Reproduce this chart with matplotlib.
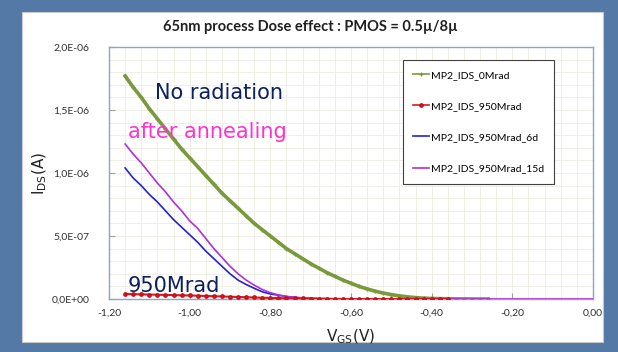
import numpy as np
import matplotlib
matplotlib.use('Agg')
import matplotlib.pyplot as plt
from matplotlib.patches import Rectangle
from matplotlib.ticker import MultipleLocator, FuncFormatter

# data (I in uA)
v_0mrad = [-1.16, -1.14, -1.12, -1.10, -1.08, -1.06, -1.04, -1.02, -1.00, -0.98,
           -0.96, -0.94, -0.92, -0.90, -0.88, -0.86, -0.84, -0.82, -0.80, -0.78,
           -0.76, -0.74, -0.72, -0.70, -0.68, -0.66, -0.64, -0.62, -0.60, -0.58,
           -0.56, -0.54, -0.52, -0.50, -0.48, -0.46, -0.44, -0.42, -0.40, -0.38,
           -0.36, -0.34, -0.32, -0.30, -0.28, -0.26]
i_0mrad = [1.77, 1.68, 1.60, 1.51, 1.43, 1.35, 1.27, 1.19, 1.12, 1.05,
           0.98, 0.91, 0.84, 0.78, 0.72, 0.66, 0.60, 0.55, 0.50, 0.45,
           0.40, 0.36, 0.32, 0.28, 0.245, 0.21, 0.18, 0.15, 0.125, 0.10,
           0.08, 0.062, 0.047, 0.035, 0.025, 0.017, 0.011, 0.007, 0.004, 0.003,
           0.002, 0.001, 0.001, 0.0, 0.0, 0.0]

v_950 = [-1.16, -1.14, -1.12, -1.10, -1.08, -1.06, -1.04, -1.02, -1.00, -0.98,
         -0.96, -0.94, -0.92, -0.90, -0.88, -0.86, -0.84, -0.82, -0.80, -0.78,
         -0.76, -0.74, -0.72, -0.70, -0.68, -0.66, -0.64, -0.62, -0.60, -0.58,
         -0.56, -0.54, -0.52, -0.50, -0.48, -0.46, -0.44, -0.42, -0.40, -0.38, -0.36]
i_950 = [0.040, 0.038, 0.037, 0.035, 0.034, 0.032, 0.031, 0.029, 0.028, 0.026,
         0.024, 0.022, 0.020, 0.018, 0.016, 0.014, 0.012, 0.010, 0.009, 0.007,
         0.006, 0.005, 0.004, 0.003, 0.002, 0.0015, 0.001, 0.0005, 0.0, 0.0,
         0.0, 0.0, 0.0, 0.0, 0.0, 0.0, 0.0, 0.0, 0.0, 0.0, 0.0]

v_6d = [-1.16, -1.14, -1.12, -1.10, -1.08, -1.06, -1.04, -1.02, -1.00, -0.98,
        -0.96, -0.94, -0.92, -0.90, -0.88, -0.86, -0.84, -0.82, -0.80, -0.78,
        -0.76, -0.74, -0.72, -0.70, -0.68, -0.66, -0.64, -0.60, -0.50, -0.40, -0.36]
i_6d = [1.04, 0.96, 0.90, 0.83, 0.77, 0.70, 0.63, 0.57, 0.51, 0.45,
        0.38, 0.32, 0.26, 0.20, 0.15, 0.115, 0.085, 0.057, 0.04, 0.03,
        0.02, 0.013, 0.008, 0.005, 0.003, 0.002, 0.001, 0.0, 0.0, 0.0, 0.0]

v_15d = [-1.16, -1.14, -1.12, -1.10, -1.08, -1.06, -1.04, -1.02, -1.00, -0.98,
         -0.96, -0.94, -0.92, -0.90, -0.88, -0.86, -0.84, -0.82, -0.80, -0.78,
         -0.76, -0.74, -0.72, -0.70, -0.68, -0.66, -0.64, -0.60, -0.40, -0.20, 0.0]
i_15d = [1.23, 1.15, 1.08, 1.00, 0.92, 0.85, 0.77, 0.70, 0.62, 0.56,
         0.48, 0.40, 0.33, 0.26, 0.20, 0.15, 0.11, 0.075, 0.05, 0.032,
         0.02, 0.013, 0.008, 0.005, 0.003, 0.002, 0.001, 0.0, 0.0, 0.0, 0.0]

labels = ['MP2_IDS_0Mrad', 'MP2_IDS_950Mrad', 'MP2_IDS_950Mrad_6d', 'MP2_IDS_950Mrad_15d']
xticks = [-1.2, -1.0, -0.8, -0.6, -0.4, -0.2, 0.0]
yticks = [0, 0.5e-6, 1.0e-6, 1.5e-6, 2.0e-6]

fig = plt.figure(figsize=(6.18, 3.52), dpi=100)
fig.patch.set_facecolor('#5479a6')
# white chart box
fig.patches.append(Rectangle((22/618, 1-342/352), 581/618, 330/352, transform=fig.transFigure,
                             facecolor='white', edgecolor='#c8c8c8', lw=0.8, zorder=-1))

ax = fig.add_axes([109/618, 1-299/352, 484/618, 252/352])
ax.set_zorder(2)
ax.set_facecolor('white')

u = 1e-6
ax.plot(v_0mrad, np.array(i_0mrad)*u, color='#789a3a', lw=2.6, marker='+', ms=3.5, mew=1.0, label=labels[0], zorder=3)
ax.plot(v_6d, np.array(i_6d)*u, color='#2323d6', lw=1.2, label=labels[2], zorder=4)
ax.plot(v_15d, np.array(i_15d)*u, color='#b030dc', lw=1.2, label=labels[3], zorder=4)
ax.plot(v_950, np.array(i_950)*u, color='#e01818', lw=1.5, marker='o', ms=2.4, mec='#c01020', label=labels[1], zorder=5)

ax.set_xlim(-1.2, 0.0)
ax.set_ylim(0, 2.0e-6)
ax.set_xticks(xticks)
ax.set_yticks(yticks)
ax.xaxis.set_minor_locator(MultipleLocator(0.04))
ax.yaxis.set_minor_locator(MultipleLocator(1e-7))
ax.grid(which='both', color='#efefe6', lw=0.7, zorder=0)
ax.set_axisbelow(True)

ax.xaxis.set_major_formatter(FuncFormatter(lambda v, p: ('%.2f' % v).replace('.', ',')))
def yfmt(v, p):
    s = '%.1E' % v
    return s.replace('.', ',')
ax.yaxis.set_major_formatter(FuncFormatter(yfmt))

ax.tick_params(which='major', direction='in', length=4, color='#a0a0a0', labelsize=7.5,
               labelcolor='#303030')
ax.tick_params(axis='y', pad=14)
ax.tick_params(axis='x', pad=7)
ax.tick_params(which='minor', length=0)
for t in ax.get_xticklabels() + ax.get_yticklabels():
    t.set_fontfamily('Lato')
for s in ax.spines.values():
    s.set_color('#8ea3c7')
    s.set_linewidth(1.0)

ax.set_xlabel('V$_{\\mathrm{GS}}$(V)', fontsize=11, fontfamily='DejaVu Sans', color='#202020', labelpad=7)
ax.set_ylabel('I$_{\\mathrm{DS}}$(A)', fontsize=11, fontfamily='DejaVu Sans', color='#202020', labelpad=2)

fig.text(310/618, 1-27/352, '65nm process Dose effect : PMOS = 0.5µ/8µ', ha='center', va='center',
         fontsize=10.5, fontweight='bold', fontfamily='Lato', color='#202020')

ax.text(-1.086, 1.635e-6, 'No radiation', fontsize=15, color='#0c1f5e', va='center', fontfamily='DejaVu Sans')
ax.text(-1.153, 1.325e-6, 'after annealing', fontsize=15, color='#ff33cc', va='center', fontfamily='DejaVu Sans')
ax.text(-1.153, 0.103e-6, '950Mrad', fontsize=15, color='#0c1f5e', va='center', fontfamily='DejaVu Sans')

handles, labs = ax.get_legend_handles_labels()
order = [0, 3, 1, 2]
leg = ax.legend([handles[i] for i in order], [labs[i] for i in order],
                loc='upper left', bbox_to_anchor=(0.607, 0.948), borderaxespad=0,
                labelspacing=2.1, handlelength=1.5, handletextpad=0.2,
                borderpad=1.0, fancybox=False, framealpha=1, edgecolor='#404040',
                prop={'family': 'Lato', 'size': 7.5})
leg.get_frame().set_linewidth(0.8)
for line in leg.get_lines():
    line.set_linewidth(1.2)

fig.savefig('out.png', dpi=100, facecolor=fig.get_facecolor())
